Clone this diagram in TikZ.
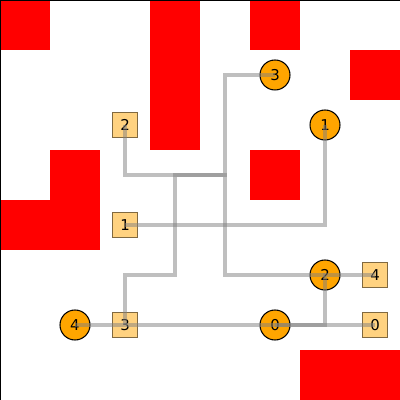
\documentclass[tikz,border=0pt]{standalone}
\usepackage{fontspec}
\setmainfont{DejaVu Sans}
\usetikzlibrary{positioning}
\definecolor{wall}{RGB}{255,0,0}
\definecolor{agent}{RGB}{255,165,0}
\definecolor{goal}{RGB}{255,210,128}
\definecolor{goalrim}{RGB}{128,105,64}
\definecolor{route}{RGB}{128,128,128}

\begin{document}
\begin{tikzpicture}[
    agentnode/.style={circle,fill=agent,draw=black,line width=0.6pt,minimum size=6mm,inner sep=0pt,font=\fontsize{8.5}{9}\selectfont},
    goalnode/.style={rectangle,fill=goal,draw=goalrim,line width=0.6pt,minimum size=5mm,inner sep=0pt,font=\fontsize{8.5}{9}\selectfont},
    routeline/.style={route,opacity=0.5,line width=2pt}]
    \useasboundingbox (0,0) rectangle (8,8);
    % obstacles (column/row, row 0 at the top)
    \foreach \c/\r in {0/0,3/0,3/1,3/2,5/0,7/1,1/3,1/4,0/4,5/3,6/7,7/7}
      \fill[wall] (\c,7-\r) rectangle ++(1,1);
    \draw[black,line width=0.5pt] (0,0) rectangle (8,8);
    % agents and their goals
    \foreach \n/\c/\r in {3/5/1,1/6/2,2/6/5,4/1/6,0/5/6}
      \node[agentnode] (a\n) at (\c+0.5,7.5-\r) {\n};
    \foreach \n/\c/\r in {2/2/2,1/2/4,4/7/5,3/2/6,0/7/6}
      \node[goalnode] (g\n) at (\c+0.5,7.5-\r) {\n};
    % planned routes
    \draw[routeline] (g0.center) -- (a0.center);
    \draw[routeline] (g1.center) -| (a1.center);
    \draw[routeline] (g2.center) |- (4.5,4.5) |- (a2.center);
    \draw[routeline] (g3.center) |- (3.5,2.5) |- (4.5,4.5) |- (a3.center);
    \draw[routeline] (g4.center) -- (a2.center) |- (a4.center);
  \end{tikzpicture}
\end{document}
